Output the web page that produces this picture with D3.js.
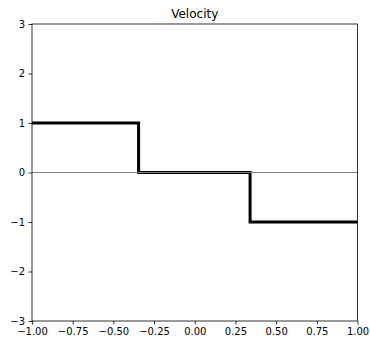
<!DOCTYPE html>
<html>
<head>
<meta charset="utf-8">
<script src="https://cdn.jsdelivr.net/npm/d3@7"></script>
<style>
  body { margin: 0; background: #fff; }
  text { font-family: "DejaVu Sans", sans-serif; }
</style>
</head>
<body>
<div id="chart"></div>
<script>
// step profile of the velocity
const stepX = [-1, -0.345, -0.345, 0.34, 0.34, 1];
const stepY = [1, 1, 0, 0, -1, -1];
const xTicks = [-1, -0.75, -0.5, -0.25, 0, 0.25, 0.5, 0.75, 1];
const yTicks = [-3, -2, -1, 0, 1, 2, 3];
const title = 'Velocity';

const W = 370, H = 340;
const margin = { top: 24, right: 12.5, bottom: 19, left: 32 };

const svg = d3.select('#chart').append('svg')
  .attr('width', W)
  .attr('height', H);

const x = d3.scaleLinear().domain([-1, 1]).range([margin.left, W - margin.right]);
const y = d3.scaleLinear().domain([-3, 3]).range([H - margin.bottom, margin.top]);

const fmtX = d => d3.format('.2f')(d).replace('-', '\u2212');
const fmtY = d => String(d).replace('-', '\u2212');

/* ----------axes------------*/
const xAxis = svg.append('g')
  .attr('transform', 'translate(0,' + (H - margin.bottom) + ')')
  .call(d3.axisBottom(x).tickValues(xTicks).tickFormat(fmtX).tickSize(3.5).tickPadding(3.5));
const yAxis = svg.append('g')
  .attr('transform', 'translate(' + margin.left + ',0)')
  .call(d3.axisLeft(y).tickValues(yTicks).tickFormat(fmtY).tickSize(3.5).tickPadding(3.5));

[xAxis, yAxis].forEach(a => {
  a.select('.domain').remove();
  a.selectAll('line').attr('stroke', '#000').attr('stroke-width', 0.8);
  a.selectAll('text').attr('fill', '#000').style('font-size', '10px')
    .style('font-family', '"DejaVu Sans", sans-serif');
});

/* ----------step line------------*/
const pts = stepX.map((d, i) => [d, stepY[i]]);
svg.append('path')
  .datum(pts)
  .attr('fill', 'none')
  .attr('stroke', '#000')
  .attr('stroke-width', 3)
  .attr('d', d3.line().x(d => x(d[0])).y(d => y(d[1])));

/* ----------zero line------------*/
svg.append('line')
  .attr('x1', x(-1)).attr('x2', x(1))
  .attr('y1', y(0)).attr('y2', y(0))
  .attr('stroke', '#808080')
  .attr('stroke-width', 1);

/* ----------frame------------*/
svg.append('rect')
  .attr('x', x(-1)).attr('y', y(3))
  .attr('width', x(1) - x(-1)).attr('height', y(-3) - y(3))
  .attr('fill', 'none')
  .attr('stroke', '#000')
  .attr('stroke-width', 0.8);

svg.append('text')
  .attr('x', (x(-1) + x(1)) / 2)
  .attr('y', margin.top - 6)
  .attr('text-anchor', 'middle')
  .style('font-size', '12px')
  .text(title);
</script>
</body>
</html>
